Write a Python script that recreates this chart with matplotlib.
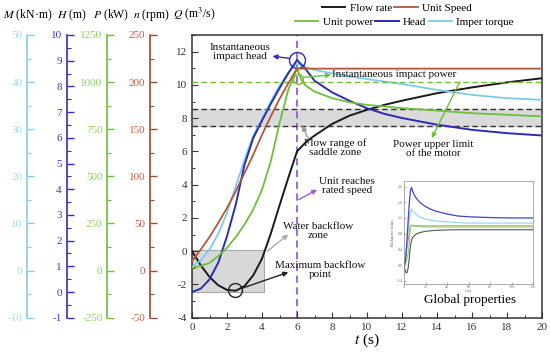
import matplotlib
matplotlib.use('Agg')
import matplotlib.pyplot as plt
from matplotlib.patches import Rectangle
from matplotlib.ticker import MultipleLocator

plt.rcParams['font.family'] = ['Liberation Serif', 'DejaVu Serif']
plt.rcParams['mathtext.fontset'] = 'stix'
plt.rcParams['axes.unicode_minus'] = False

# ---------------- data ----------------
t_main = [0, 0.5, 1, 1.5, 2, 2.5, 3, 3.5, 4, 4.5, 5, 5.5, 6, 6.5, 7, 8, 9, 10, 11, 12, 14, 16, 18, 20]
flow_q = [0, -0.85, -1.55, -2.05, -2.33, -2.38, -2.1, -1.45, -0.45, 1.05, 2.75, 4.4, 6.0,
          6.55, 6.95, 7.65, 8.15, 8.5, 8.8, 9.05, 9.5, 9.85, 10.15, 10.4]
head_h = [0.0, 0.13, 0.49, 1.14, 2.17, 3.40, 4.95, 5.99, 6.67, 7.32, 7.93, 8.51, 9.03,
          8.67, 8.22, 7.77, 7.44, 7.15, 6.93, 6.77, 6.51, 6.31, 6.18, 6.09]
speed_n = [10.0, 22.4, 35.6, 50.6, 66.5, 84.1, 103.5, 122.9, 144.1, 163.5, 182.1, 198.8, 214.3,
           214.3, 214.3, 214.3, 214.3, 214.3, 214.3, 214.3, 214.3, 214.3, 214.3, 214.3]
torque_m = [0.76, 2.18, 4.47, 7.82, 12.24, 17.88, 23.53, 28.65, 32.18, 35.88, 39.24, 42.06, 44.0,
            43.12, 42.59, 41.88, 41.18, 40.65, 40.12, 39.59, 38.35, 37.29, 36.59, 36.24]
t_power = [0, 0.5, 1, 1.5, 2, 2.5, 3, 3.5, 4, 4.5, 5, 5.5, 6, 6.25, 6.5, 7, 8, 9, 10, 11, 12, 14, 16, 18, 20]
power_p = [15, 24, 41, 77, 121, 178, 244, 324, 429, 579, 782, 959, 1073, 1012, 981,
           950, 915, 893, 879, 871, 862, 849, 835, 827, 818]

saddle_low, saddle_high = 7.5, 8.55     # m3/s
power_limit = 1000                      # kW
rated_time = 6                          # s
backflow_end = 4.1                      # s

t_inset = [0, 1, 2, 3, 4, 5, 6, 7, 8, 10, 12, 15, 20, 25, 30, 40, 50, 60, 80, 100, 120]
inset_head = [0.0, 0.05, 0.3, 0.75, 1.2, 1.6, 1.9, 1.98, 1.88, 1.76, 1.68, 1.59, 1.49, 1.42, 1.37,
              1.3, 1.25, 1.23, 1.21, 1.2, 1.2]
inset_torque = [0.0, 0.08, 0.3, 0.6, 0.9, 1.15, 1.35, 1.43, 1.38, 1.32, 1.27, 1.22, 1.17, 1.14,
                1.12, 1.1, 1.08, 1.07, 1.07, 1.07, 1.07]
inset_speed = [0.0, 0.17, 0.33, 0.5, 0.67, 0.83, 1.0, 1.0, 1.0, 1.0, 1.0, 1.0, 1.0, 1.0, 1.0,
               1.0, 1.0, 1.0, 1.0, 1.0, 1.0]
inset_power = [0.0, 0.02, 0.08, 0.18, 0.32, 0.6, 1.0, 1.02, 1.0, 0.99, 0.98, 0.98, 0.97, 0.97,
               0.97, 0.97, 0.97, 0.97, 0.97, 0.97, 0.97]
inset_flow = [0.0, -0.12, -0.2, -0.18, -0.05, 0.2, 0.5, 0.62, 0.7, 0.76, 0.8, 0.83, 0.86, 0.875,
              0.885, 0.895, 0.9, 0.9, 0.9, 0.9, 0.9]

# ---------------- colours ----------------
c_flow = '#1a1a1a'
c_speed = '#b0583a'
c_power = '#6cc03a'
c_head = '#2c2cb4'
c_torque = '#7ccbee'
c_purple = '#9a5ce0'

W, H = 550, 356
fig = plt.figure(figsize=(5.5, 3.56), dpi=100)
ax = fig.add_axes([192 / W, 1 - 317.7 / H, 350 / W, 282.7 / H])
ax.set_xlim(0, 20)
ax.set_ylim(-4, 13)
ax.xaxis.set_major_locator(MultipleLocator(2))
ax.xaxis.set_minor_locator(MultipleLocator(1))
ax.set_yticks(list(range(-4, 13, 2)))
ax.yaxis.set_minor_locator(MultipleLocator(1))
ax.tick_params(which='both', direction='in', labelsize=8, colors='#333333')
ax.tick_params(which='major', length=4, width=0.8)
ax.tick_params(which='minor', length=2, width=0.7)
for s in ax.spines.values():
    s.set_color('#333333')
    s.set_linewidth(1.1)
ax.set_xlabel('$t$ (s)', fontsize=11, labelpad=0)


def make_par(pos, ylim, major, minor, spine_color, label_color):
    a = ax.twinx()
    a.set_ylim(*ylim)
    for side in ('right', 'top', 'bottom'):
        a.spines[side].set_visible(False)
    a.spines['left'].set_visible(True)
    a.spines['left'].set_position(('axes', pos))
    a.spines['left'].set_color(spine_color)
    a.spines['left'].set_linewidth(1.2)
    a.yaxis.set_ticks_position('left')
    a.yaxis.set_label_position('left')
    a.yaxis.set_major_locator(MultipleLocator(major))
    a.yaxis.set_minor_locator(MultipleLocator(minor))
    a.tick_params(axis='y', which='both', direction='in', colors=spine_color,
                  labelcolor=label_color, labelsize=8)
    a.tick_params(axis='y', which='major', length=5, width=1)
    a.tick_params(axis='y', which='minor', length=3, width=0.8)
    return a


axM = make_par(-0.4706, (-10, 50), 10, 5, '#86cdee', '#9adcf0')
axH = make_par(-0.358, (-1, 10), 1, 0.5, '#3030b8', '#3a3ac0')
axP = make_par(-0.242, (-250, 1250), 250, 125, '#6cc03a', '#8fd060')
axN = make_par(-0.12, (-50, 250), 50, 25, '#9a4a30', '#c0604a')

# backgrounds / reference lines
ax.axhspan(saddle_low, saddle_high, color='#dadada', zorder=0)
ax.axhline(saddle_low, color='#333333', ls=(0, (4, 2.5)), lw=1.0)
ax.axhline(saddle_high, color='#333333', ls=(0, (4, 2.5)), lw=1.0)
axP.axhline(power_limit, color=c_power, ls=(0, (4, 2.5)), lw=1.0)
ax.axvline(rated_time, color=c_purple, ls=(0, (4, 2.5)), lw=1.3, zorder=1)
fmin = min(flow_q)
ax.add_patch(Rectangle((0, fmin - 0.07), backflow_end, 0.12 - fmin, facecolor='#d8d8d8',
                       edgecolor='#a8a8a8', lw=0.8, zorder=0))

# curves
l_flow, = ax.plot(t_main, flow_q, color=c_flow, lw=1.4, zorder=3)
l_speed, = axN.plot(t_main, speed_n, color=c_speed, lw=1.3)
l_power, = axP.plot(t_power, power_p, color=c_power, lw=1.3)
l_torque, = axM.plot(t_main, torque_m, color=c_torque, lw=1.3)
l_head, = axH.plot(t_main, head_h, color=c_head, lw=1.4)

# circles
ih = head_h.index(max(head_h))
axH.plot([t_main[ih]], [head_h[ih]], 'o', ms=11.5, mfc='none', mec=c_head, mew=1.0)
iflow = flow_q.index(fmin)
ax.plot([t_main[iflow] - 0.05], [fmin + 0.05], 'o', ms=10, mfc='none', mec='#222222', mew=1.0, zorder=4)
ax.plot([6.05], [10.35], 'o', ms=7, mfc='none', mec=c_power, mew=1.0, zorder=4)

# annotations (drawn on the top axes with main-axis data coordinates)
top = axH
td = ax.transData
fs = 8


def arrow(xy, xytext, color):
    top.annotate('', xy=xy, xytext=xytext, xycoords=td, textcoords=td,
                 arrowprops=dict(arrowstyle='-|>', color=color, lw=1.0,
                                 mutation_scale=7, shrinkA=0, shrinkB=0))


def label(x, y, s, ha='center'):
    top.text(x, y, s, transform=td, ha=ha, va='center', fontsize=fs, linespacing=1.0,
             color='#111111')


label(2.74, 12.0, 'Instantaneous\nimpact head')
arrow((4.6, 11.72), (5.55, 11.6), c_head)
label(8.0, 10.6, 'Instantaneous impact power', ha='left')
arrow((7.95, 10.6), (6.35, 10.45), c_power)
label(8.17, 6.2, 'Flow range of\nsaddle zone')
arrow((6.3, 7.55), (6.65, 6.75), '#999999')
label(13.77, 6.13, 'Power upper limit\nof the motor')
arrow((13.7, 6.8), (15.3, 10.17), c_power)
label(8.86, 3.9, 'Unit reaches\nrated speed')
arrow((7.15, 3.7), (6.1, 3.1), c_purple)
label(7.2, 1.2, 'Water backflow\nzone')
arrow((5.5, 1.0), (4.3, 0.0), '#aaaaaa')
label(7.31, -1.13, 'Maximum backflow\npoint')
arrow((5.5, -1.27), (2.8, -2.25), '#222222')

# axis titles
fig.text(27.5 / W, 1 - 15 / H, '$M$ (kN·m)', ha='center', va='center', fontsize=8.5)
fig.text(71.5 / W, 1 - 15 / H, '$H$ (m)', ha='center', va='center', fontsize=8.5)
fig.text(111 / W, 1 - 15 / H, '$P$ (kW)', ha='center', va='center', fontsize=8.5)
fig.text(151 / W, 1 - 15 / H, '$n$ (rpm)', ha='center', va='center', fontsize=8.5)
fig.text(194 / W, 1 - 14 / H, '$Q$ (m$^3$/s)', ha='center', va='center', fontsize=8.5)

# legends
fig.legend([l_flow, l_speed], ['Flow rate', 'Unit Speed'], loc='center left',
           bbox_to_anchor=(322 / W, 1 - 8 / H), ncol=2, frameon=False, fontsize=8,
           handlelength=2.1, handletextpad=0.4, columnspacing=0.2, borderpad=0, borderaxespad=0)
fig.legend([l_power, l_head, l_torque], ['Unit power', 'Head', 'Imper torque'], loc='center left',
           bbox_to_anchor=(295 / W, 1 - 22 / H), ncol=3, frameon=False, fontsize=8,
           handlelength=2.1, handletextpad=0.4, columnspacing=0.2, borderpad=0, borderaxespad=0)

# inset
axi = fig.add_axes([404 / W, 1 - 284 / H, 129 / W, 103 / H], zorder=10)
axi.set_facecolor('white')
axi.plot(t_inset, inset_flow, color='#555555', lw=0.8)
axi.plot(t_inset, inset_speed, color='#d09080', lw=0.8)
axi.plot(t_inset, inset_power, color='#90d070', lw=0.8)
axi.plot(t_inset, inset_torque, color='#8fd3f0', lw=0.8)
axi.plot(t_inset, inset_head, color='#4444c0', lw=0.9)
axi.set_xlim(0, 120)
axi.set_ylim(-0.48, 2.14)
axi.xaxis.set_major_locator(MultipleLocator(20))
axi.yaxis.set_major_locator(MultipleLocator(0.4))
axi.tick_params(which='both', direction='in', labelsize=3, length=1.5, width=0.4,
                colors='#777777', pad=0.8)
for s in axi.spines.values():
    s.set_color('#888888')
    s.set_linewidth(0.5)
axi.set_xlabel('t (s)', fontsize=2.8, labelpad=0.2, color='#555555')
axi.set_ylabel('Relative ratio', fontsize=3.5, labelpad=1, color='#555555')
fig.text(470 / W, 1 - 300 / H, 'Global properties', ha='center', va='center', fontsize=9.5)

fig.savefig('out.png', dpi=100)
